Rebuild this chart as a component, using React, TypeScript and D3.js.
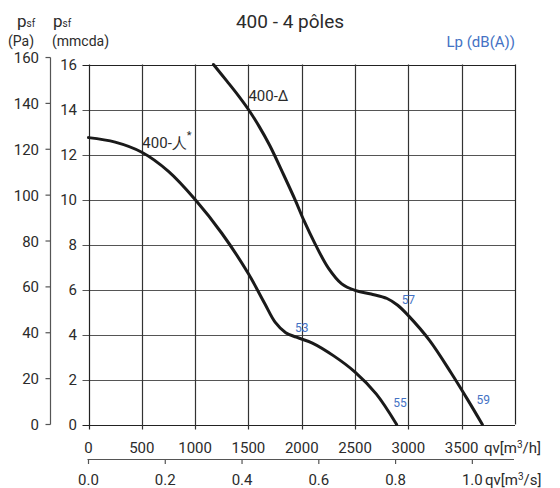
import React from "react";
import * as d3 from "d3";

// ---- data ----
const flowTicksH = [0, 500, 1000, 1500, 2000, 2500, 3000, 3500];
const flowTicksS = [0, 0.2, 0.4, 0.6, 0.8, 1.0];
const mmTicks = [0, 2, 4, 6, 8, 10, 12, 14, 16];
const paTicks = [0, 20, 40, 60, 80, 100, 120, 140, 160];
const gridFlow = [0, 500, 1000, 1500, 2000, 2500, 3000, 3500, 4000];

// 400-Y* curve (m3/h, mmcda)
const starFlow = [0, 250, 500, 750, 1000, 1250, 1500, 1650, 1750, 1850, 1950, 2100, 2300, 2500, 2700, 2890];
const starPress = [12.75, 12.55, 12.1, 11.25, 10.0, 8.5, 6.7, 5.4, 4.55, 4.08, 3.88, 3.62, 3.05, 2.33, 1.35, 0];

// 400-Δ curve (m3/h, mmcda)
const deltaFlow = [1172, 1300, 1400, 1500, 1600, 1700, 1830, 1940, 2020, 2125, 2250, 2375, 2500, 2650, 2800, 2900, 3000, 3200, 3400, 3550, 3694];
const deltaPress = [16, 15.25, 14.65, 14.0, 13.25, 12.4, 11.1, 9.96, 9.07, 8.03, 6.95, 6.25, 5.96, 5.8, 5.6, 5.3, 4.84, 3.73, 2.3, 1.15, 0];

// sound level labels
const lpText = ["53", "55", "57", "59"];
const lpFlow = [2000, 2922, 3000, 3703];
const lpPress = [4.3, 1.0, 5.54, 1.1];

const PA_PER_MM = 9.81;
const M3H_PER_M3S = 3600;

const FONT = "Roboto, 'DejaVu Sans', sans-serif";
const TXT = "#2b2b2b";
const BLUE = "#4472c4";

export default function App() {
  const width = 560;
  const height = 488;
  const x = d3.scaleLinear().domain([0, 4000]).range([88.5, 515]);
  const y = d3.scaleLinear().domain([0, 16]).range([424.5, 64.5]);
  const yPa = (pa: number) => y(pa / PA_PER_MM);
  const xS = (s: number) => x(s * M3H_PER_M3S);

  const line = d3
    .line<[number, number]>()
    .x((d) => x(d[0]))
    .y((d) => y(d[1]))
    .curve(d3.curveCatmullRom.alpha(0.5));

  const starPts: [number, number][] = starFlow.map((f, i) => [f, starPress[i]]);
  const deltaPts: [number, number][] = deltaFlow.map((f, i) => [f, deltaPress[i]]);

  const x0 = x(0);
  const x1 = x(4000);
  const yb = y(0);
  const yt = y(16);
  const paX = 50.5;
  const axis2Y = 459.5;

  return (
    <svg
      width={width}
      height={height}
      style={{ position: "absolute", left: 0, top: 0, background: "#fff" }}
      fontFamily={FONT}
    >
      {/* title */}
      <text x={290} y={28} textAnchor="middle" fontSize={19} fill={TXT}>
        400 - 4 pôles
      </text>
      <text x={515} y={47} textAnchor="end" fontSize={15} fill={BLUE}>
        Lp (dB(A))
      </text>

      {/* y titles */}
      <text x={17} y={27} fontSize={17} fill={TXT}>
        p<tspan fontSize={10}>sf</tspan>
      </text>
      <text x={8} y={46} fontSize={14} fill={TXT}>
        (Pa)
      </text>
      <text x={53} y={27} fontSize={17} fill={TXT}>
        p<tspan fontSize={10}>sf</tspan>
      </text>
      <text x={52} y={46} fontSize={14} fill={TXT}>
        (mmcda)
      </text>

      {/* horizontal grid */}
      {mmTicks.map((t) => (
        <line
          key={"h" + t}
          x1={x0 - 6}
          x2={x1}
          y1={Math.round(y(t)) + 0.5}
          y2={Math.round(y(t)) + 0.5}
          stroke={t === 0 || t === 16 ? "#222" : "#555"}
          strokeWidth={1.2}
        />
      ))}
      {/* vertical grid */}
      {gridFlow.map((f) => (
        <line
          key={"v" + f}
          x1={Math.round(x(f)) + 0.5}
          x2={Math.round(x(f)) + 0.5}
          y1={yt}
          y2={f === 4000 ? yb : yb + 5}
          stroke={f === 0 || f === 4000 ? "#222" : "#333"}
          strokeWidth={1.2}
        />
      ))}

      {/* mmcda labels */}
      {mmTicks.map((t) => (
        <text key={"ml" + t} x={77} y={y(t) + 5.5} textAnchor="end" fontSize={15} fill={TXT}>
          {t}
        </text>
      ))}

      {/* Pa axis */}
      <line x1={paX} x2={paX} y1={yPa(160)} y2={yPa(0)} stroke="#555" strokeWidth={1.2} />
      {paTicks.map((t) => (
        <g key={"pa" + t}>
          <line x1={paX - 5} x2={paX} y1={yPa(t)} y2={yPa(t)} stroke="#555" strokeWidth={1.2} />
          <text x={39} y={yPa(t) + 5.5} textAnchor="end" fontSize={15} fill={TXT}>
            {t}
          </text>
        </g>
      ))}

      {/* m3/h labels */}
      {flowTicksH.map((f) => (
        <text key={"fh" + f} x={x(f)} y={453} textAnchor="middle" fontSize={15} fill={TXT}>
          {f}
        </text>
      ))}
      <text x={484} y={453} fontSize={15} fill={TXT}>
        qv[m<tspan fontSize={10} dy={-5}>3</tspan>
        <tspan dy={5}>/h]</tspan>
      </text>

      {/* m3/s axis */}
      <line x1={x0 - 1} x2={x1 - 1} y1={axis2Y} y2={axis2Y} stroke="#555" strokeWidth={1.2} />
      {flowTicksS.map((s) => (
        <g key={"fs" + s}>
          <line x1={xS(s)} x2={xS(s)} y1={axis2Y} y2={axis2Y + 4.5} stroke="#555" strokeWidth={1.2} />
          <text x={xS(s)} y={485} textAnchor="middle" fontSize={15} fill={TXT}>
            {s.toFixed(1)}
          </text>
        </g>
      ))}
      <text x={485} y={485} fontSize={15} fill={TXT}>
        qv[m<tspan fontSize={10} dy={-5}>3</tspan>
        <tspan dy={5}>/s]</tspan>
      </text>

      {/* curves */}
      <path d={line(starPts) || ""} fill="none" stroke="#1a1a1a" strokeWidth={3} strokeLinecap="round" />
      <path d={line(deltaPts) || ""} fill="none" stroke="#1a1a1a" strokeWidth={3} strokeLinecap="round" />

      {/* curve labels */}
      <text x={x(505)} y={y(12.27)} fontSize={15} fill={TXT}>
        400-人<tspan fontSize={11} dy={-9}>*</tspan>
      </text>
      <text x={x(1500)} y={y(14.4)} fontSize={15} fill={TXT}>
        400-Δ
      </text>

      {/* Lp labels */}
      {lpText.map((t, i) => (
        <text
          key={"lp" + t}
          x={x(lpFlow[i])}
          y={y(lpPress[i]) + 4.5}
          textAnchor="middle"
          fontSize={12}
          fill={BLUE}
        >
          {t}
        </text>
      ))}
    </svg>
  );
}
